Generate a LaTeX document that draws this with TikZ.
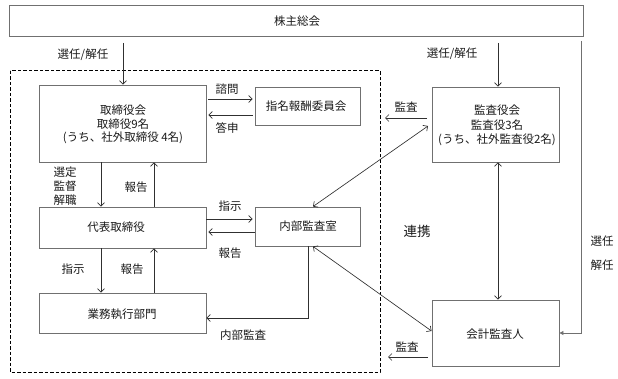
\documentclass[tikz,border=0pt]{standalone}
\usepackage{fontspec}
\setmainfont{Noto Sans CJK JP}
\usetikzlibrary{arrows.meta}
\definecolor{boxc}{HTML}{707070}
\definecolor{linec}{HTML}{303030}
\definecolor{txtc}{HTML}{1A1A1A}
\begin{document}
\begin{tikzpicture}[x=1pt,y=-1pt,
  font=\fontsize{11.5}{14}\selectfont, text=txtc,
  orgbox/.style={draw=boxc,line width=0.9pt,minimum width=#1,inner sep=0pt,align=center},
  lbl/.style={inner sep=0pt,align=center},
  conn/.style={draw=linec,line width=0.65pt,-{Straight Barb[length=3.5pt,width=7pt]}},
  dconn/.style={draw=linec,line width=0.65pt,{Straight Barb[length=3.5pt,width=7pt]}-{Straight Barb[length=3.5pt,width=7pt]}},
  fconn/.style={draw=boxc,line width=0.9pt,-{Triangle[length=4pt,width=4pt]}}]
\useasboundingbox (0,0) rectangle (618,379);
% dashed frame
\draw[black,line width=1pt,dash pattern=on 3.5pt off 2pt] (10,71) rectangle (380,372);
% boxes
\node[orgbox=574pt,minimum height=31pt] (top) at (296,20.5) {};
\node[lbl] (topt) at (297,21) {株主総会};
\node[orgbox=167pt,minimum height=77pt] (tori) at (122.5,123.5) {};
\node[lbl] (tori1) at (123,110) {取締役会};
\node[lbl] (tori2) at (123,124) {取締役9名};
\node[lbl] (tori3) at (123,138) {(うち、社外取締役 4名)};
\node[orgbox=105pt,minimum height=38pt] (shimei) at (307.5,106) {};
\node[lbl] (shimeit) at (306,106) {指名報酬委員会};
\node[orgbox=167pt,minimum height=41pt] (daihyo) at (122.5,227.5) {};
\node[lbl] (daihyot) at (116,227) {代表取締役};
\node[orgbox=105pt,minimum height=39pt] (naibu) at (307.5,226.5) {};
\node[lbl] (naibut) at (308,226.5) {内部監査室};
\node[orgbox=167pt,minimum height=40pt] (gyomu) at (122.5,313) {};
\node[lbl] (gyomut) at (122,314) {業務執行部門};
\node[orgbox=127pt,minimum height=75pt] (kansa) at (495.5,124.5) {};
\node[lbl] (kansa1) at (497,110) {監査役会};
\node[lbl] (kansa2) at (497,125) {監査役3名};
\node[lbl] (kansa3) at (497,140) {(うち、社外監査役2名)};
\node[orgbox=127pt,minimum height=66pt] (kaikei) at (495.5,333) {};
\node[lbl] (kaikeit) at (495,334) {会計監査人};
% labels
\node[lbl] (l1) at (83,55) {選任/解任};
\node[lbl] (l2) at (452,54) {選任/解任};
\node[lbl] (l3) at (227,89) {諮問};
\node[lbl] (l4) at (227,128) {答申};
\node[lbl] (l5) at (65,172) {選定};
\node[lbl] (l6) at (65,186) {監督};
\node[lbl] (l7) at (65,200) {解職};
\node[lbl] (l8) at (136,187) {報告};
\node[lbl] (l9) at (230,206) {指示};
\node[lbl] (l10) at (230,253) {報告};
\node[lbl] (l11) at (73,269) {指示};
\node[lbl] (l12) at (132,269) {報告};
\node[lbl] (l13) at (243,335) {内部監査};
\node[lbl] (l14) at (406,107) {監査};
\node[lbl] (l15) at (407,347) {監査};
\node[lbl,font=\fontsize{13.5}{16}\selectfont] (l16) at (417,231) {連携};
\node[lbl] (l17) at (602,241) {選任};
\node[lbl] (l18) at (602,265) {解任};
% free ends
\coordinate (s1) at (123,43);
\coordinate (s2) at (498,43);
\coordinate (s3) at (581,41);
\coordinate (c3) at (581,333);
\coordinate (c4) at (308,318);
\coordinate (a1s) at (427,118);
\coordinate (a1e) at (385,118);
\coordinate (a2s) at (428,357);
\coordinate (a2e) at (388,357);
% connectors
\draw[conn] (s1) -- (tori.north -| s1);
\draw[conn] (s2) -- (kansa.north -| s2);
\draw[fconn] (s3) -- (c3) -- (kaikei.east |- c3);
\draw[conn,shorten <=2pt,shorten >=2pt] (tori.east |- 0,99) -- (shimei.west |- 0,99);
\draw[conn,shorten <=2pt,shorten >=2pt] (shimei.west |- 0,115) -- (tori.east |- 0,115);
\draw[conn] (tori.south -| 101,0) -- (daihyo.north -| 101,0);
\draw[conn] (daihyo.north -| 154,0) -- (tori.south -| 154,0);
\draw[conn,shorten >=2pt] (daihyo.east |- 0,219) -- (naibu.west |- 0,219);
\draw[conn,shorten >=2pt] (naibu.west |- 0,232) -- (daihyo.east |- 0,232);
\draw[conn] (daihyo.south -| 101,0) -- (gyomu.north -| 101,0);
\draw[conn] (gyomu.north -| 154,0) -- (daihyo.south -| 154,0);
\draw[conn] (naibu.south -| c4) -- (c4) -- (gyomu.east |- c4);
\draw[dconn] (naibu.north -| 313,0) -- (428,126);
\draw[dconn] (naibu.south -| 313,0) -- (kaikei.west |- 0,331);
\draw[dconn] (kansa.south -| 498,0) -- (kaikei.north -| 498,0);
\draw[conn] (a1s) -- (a1e);
\draw[conn] (a2s) -- (a2e);
\end{tikzpicture}
\end{document}
